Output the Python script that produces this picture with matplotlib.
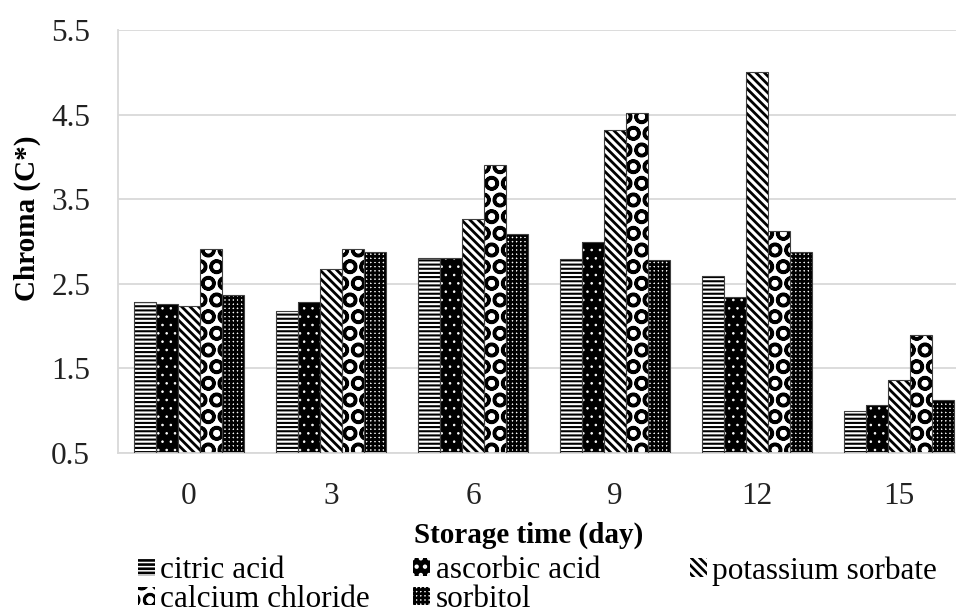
import matplotlib
matplotlib.use("Agg")
import matplotlib.pyplot as plt
import numpy as np
from matplotlib.patches import Patch

plt.rcParams['font.family'] = ['Liberation Serif', 'DejaVu Serif']

days = ['0', '3', '6', '9', '12', '15']
series_names = ['citric acid', 'ascorbic acid', 'potassium sorbate',
                'calcium chloride', 'sorbitol']
citric_acid = [2.28, 2.18, 2.81, 2.79, 2.59, 1.00]
ascorbic_acid = [2.26, 2.28, 2.80, 2.99, 2.34, 1.07]
potassium_sorbate = [2.24, 2.68, 3.27, 4.32, 5.00, 1.36]
calcium_chloride = [2.91, 2.91, 3.90, 4.52, 3.13, 1.89]
sorbitol = [2.37, 2.87, 3.09, 2.78, 2.87, 1.13]
values = [citric_acid, ascorbic_acid, potassium_sorbate, calcium_chloride, sorbitol]
y_ticks = [0.5, 1.5, 2.5, 3.5, 4.5, 5.5]

styles = [
    dict(face='white', hcol='black', hatch='----', hlw=1.5),
    dict(face='black', hcol='white', hatch='..', hlw=0.6),
    dict(face='white', hcol='black', hatch='\\\\\\\\', hlw=2.0),
    dict(face='white', hcol='black', hatch='O', hlw=2.4),
    dict(face='white', hcol='black', hatch='++++', hlw=1.9),
]

W, H = 956, 615
FS = 22.5
LFS = 21
fig = plt.figure(figsize=(W / 100, H / 100), dpi=100)
ax = fig.add_axes([118 / W, (H - 453) / H, 852 / W, (453 - 30) / H])

x = np.arange(len(days))
bw = 0.155
n = len(values)
handles = []
for i, (vals, st) in enumerate(zip(values, styles)):
    pos = x + (i - (n - 1) / 2) * bw
    plt.rcParams['hatch.linewidth'] = st['hlw']
    bars = ax.bar(pos, np.array(vals) - 0.5, bw, bottom=0.5, color=st['face'],
                  edgecolor=st['hcol'], linewidth=0, hatch=st['hatch'], zorder=2)
    for b in bars:
        if hasattr(b, 'set_hatch_linewidth'):
            b.set_hatch_linewidth(st['hlw'])
    ax.bar(pos, np.array(vals) - 0.5, bw, bottom=0.5, fill=False,
           edgecolor='#404040', linewidth=0.8, zorder=3)
    h = Patch(facecolor=st['face'], edgecolor=st['hcol'], hatch=st['hatch'],
              linewidth=0)
    if hasattr(h, 'set_hatch_linewidth'):
        h.set_hatch_linewidth(st['hlw'] * 0.8)
    handles.append(h)

ax.set_xlim(-0.5, len(days) - 0.5)
ax.set_ylim(0.5, 5.5)
ax.set_yticks(y_ticks)
ax.set_yticklabels([f'{v:.1f}' for v in y_ticks])
ax.set_xticks(x)
ax.set_xticklabels(days)
ax.tick_params(axis='both', length=0, labelsize=FS, colors='#222222')
ax.tick_params(axis='y', pad=20)
ax.tick_params(axis='x', pad=21)
ax.grid(axis='y', color='#d9d9d9', linewidth=1.3, zorder=0)
ax.set_axisbelow(True)
for s in ['top', 'right']:
    ax.spines[s].set_visible(False)
ax.spines['left'].set_color('#d9d9d9')
ax.spines['bottom'].set_color('#d9d9d9')
ax.spines['left'].set_linewidth(1.3)
ax.spines['bottom'].set_linewidth(1.3)

fig.text(27 / W, 1 - 218 / H, 'Chroma (C*)', rotation=90, ha='center', va='center',
         fontsize=LFS, fontweight='bold')
fig.text(529 / W, 1 - 535 / H, 'Storage time (day)', ha='center', va='center',
         fontsize=LFS, fontweight='bold')

# Excel-style legend: equal-width columns, filled row by row
ncols = 3
col_x = [138, 413, 690]
for c in range(ncols):
    idx = list(range(c, len(series_names), ncols))
    fig.legend([handles[k] for k in idx], [series_names[k] for k in idx],
               loc='upper left', bbox_to_anchor=(col_x[c] / W, 1 - 556 / H),
               frameon=False, fontsize=FS, handlelength=0.55, handleheight=0.55,
               handletextpad=0.17, labelspacing=0.0,
               borderpad=0, borderaxespad=0)

fig.savefig('out.png', dpi=100)
